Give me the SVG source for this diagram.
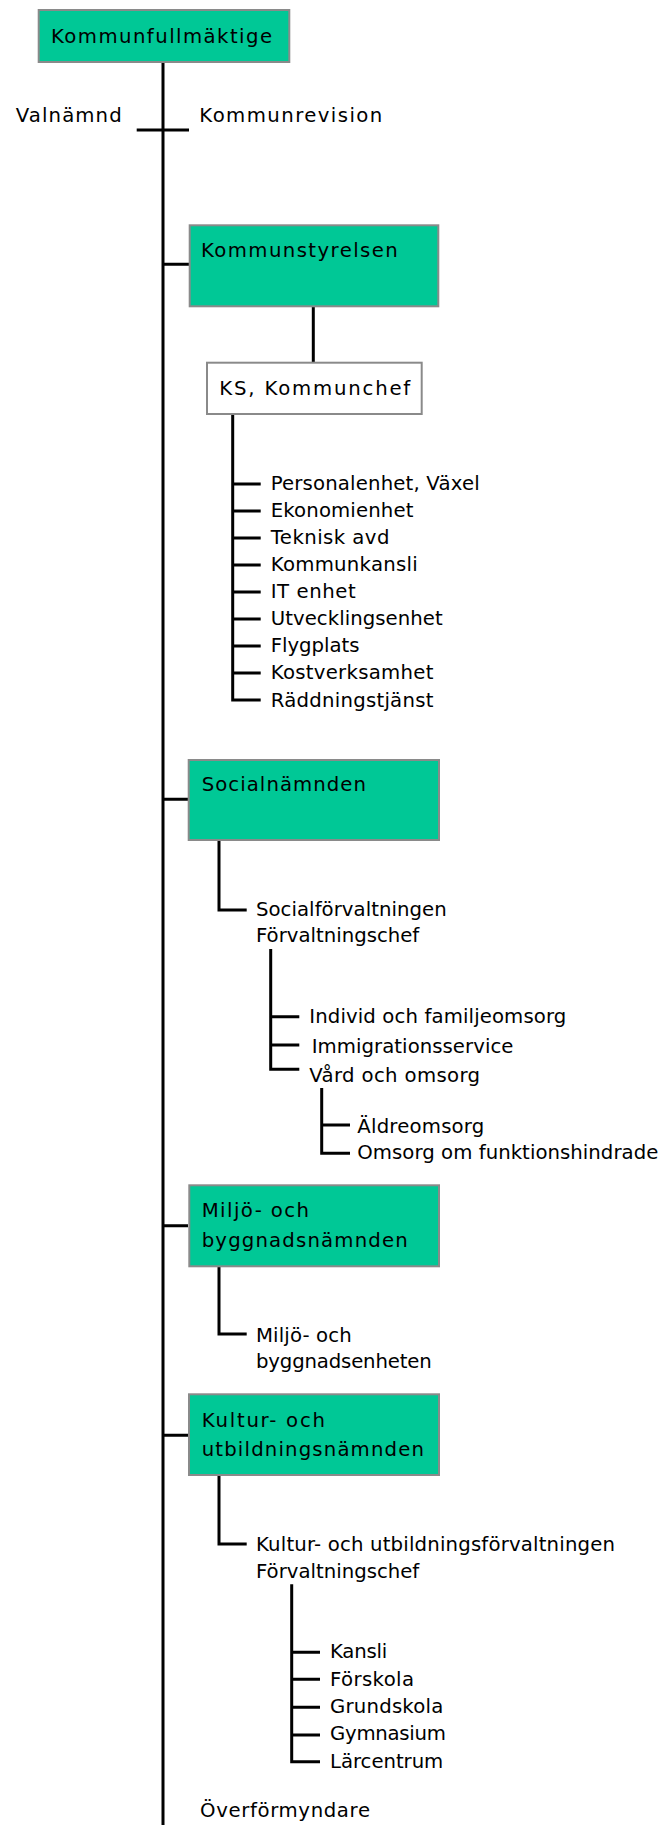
<svg xmlns="http://www.w3.org/2000/svg" width="664" height="1825" viewBox="0 0 664 1825">
<style>
text{font-family:"DejaVu Sans","Liberation Sans",sans-serif;font-size:19.7px;fill:#000}
.box{fill:#00C896;stroke:#8a8a8a;stroke-width:2}
.wbox{fill:#fff;stroke:#8a8a8a;stroke-width:2}
.ln{fill:none;stroke:#000;stroke-width:3;stroke-linejoin:miter}
</style>
<rect width="664" height="1825" fill="#fff"/>
<g id="connectors">
<path class="ln" d="M163,63V1825"/>
<path class="ln" d="M136.7,130H189"/>
<path class="ln" d="M163,264.3H189M163,799.3H188M163,1225.7H188M163,1435.3H188"/>
<path class="ln" d="M313.3,307V362"/>
<path class="ln" d="M232.7,415V700H260.7M232.7,484H260.7M232.7,511H260.7M232.7,538H260.7M232.7,565H260.7M232.7,592H260.7M232.7,619H260.7M232.7,646H260.7M232.7,673H260.7"/>
<path class="ln" d="M219,841V910H246.7"/>
<path class="ln" d="M270.7,949V1069.3H299.3M270.7,1016.7H299.3M270.7,1045H299.3"/>
<path class="ln" d="M321.7,1088V1153.3H350M321.7,1125H350"/>
<path class="ln" d="M219,1267V1334H246.7"/>
<path class="ln" d="M219,1476V1544H246.7"/>
<path class="ln" d="M291.7,1584.3V1761.7H320M291.7,1652.3H320M291.7,1679.3H320M291.7,1707.3H320M291.7,1735H320"/>
</g>
<g id="kommunfullmaktige"><rect class="box" x="38.7" y="10" width="250.6" height="52"/><text x="51" y="42.7" textLength="221" lengthAdjust="spacing">Kommunfullmäktige</text></g>
<g id="valnamnd"><text x="15.7" y="122.3" textLength="106" lengthAdjust="spacing">Valnämnd</text></g>
<g id="kommunrevision"><text x="199.3" y="122.3" textLength="183" lengthAdjust="spacing">Kommunrevision</text></g>
<g id="kommunstyrelsen"><rect class="box" x="189.7" y="225.3" width="248.6" height="81"/><text x="201" y="256.7" textLength="196.7" lengthAdjust="spacing">Kommunstyrelsen</text></g>
<g id="ks-kommunchef"><rect class="wbox" x="207" y="362.7" width="214.7" height="51.3"/><text x="219.3" y="395" textLength="191" lengthAdjust="spacing">KS, Kommunchef</text></g>
<g id="ks-units">
<text x="270.7" y="489.5" textLength="209" lengthAdjust="spacing">Personalenhet, Växel</text>
<text x="270.7" y="516.5" textLength="142.7" lengthAdjust="spacing">Ekonomienhet</text>
<text x="270.7" y="543.5" textLength="118.7" lengthAdjust="spacing">Teknisk avd</text>
<text x="270.7" y="570.5" textLength="147" lengthAdjust="spacing">Kommunkansli</text>
<text x="270.7" y="597.5" textLength="85" lengthAdjust="spacing">IT enhet</text>
<text x="270.7" y="624.5" textLength="172" lengthAdjust="spacing">Utvecklingsenhet</text>
<text x="270.7" y="651.5" textLength="88.7" lengthAdjust="spacing">Flygplats</text>
<text x="270.7" y="678.5" textLength="162.7" lengthAdjust="spacing">Kostverksamhet</text>
<text x="270.7" y="706.5" textLength="162.7" lengthAdjust="spacing">Räddningstjänst</text>
</g>
<g id="socialnamnden"><rect class="box" x="188.7" y="760" width="250.3" height="80"/><text x="201.7" y="790.7" textLength="164.3" lengthAdjust="spacing">Socialnämnden</text></g>
<g id="socialforvaltningen"><text x="256" y="916" textLength="190.7" lengthAdjust="spacing">Socialförvaltningen</text><text x="256" y="942" textLength="163.3" lengthAdjust="spacing">Förvaltningschef</text></g>
<g id="social-units">
<text x="309.3" y="1023.3" textLength="257" lengthAdjust="spacing">Individ och familjeomsorg</text>
<text x="311.7" y="1052.7" textLength="201.7" lengthAdjust="spacing">Immigrationsservice</text>
<text x="309.3" y="1081.7" textLength="170.7" lengthAdjust="spacing">Vård och omsorg</text>
</g>
<g id="vard-units">
<text x="357.3" y="1132.7" textLength="127" lengthAdjust="spacing">Äldreomsorg</text>
<text x="357.3" y="1159.3" textLength="301" lengthAdjust="spacing">Omsorg om funktionshindrade</text>
</g>
<g id="miljonamnden"><rect class="box" x="189.3" y="1185.3" width="249.7" height="81"/><text x="201.7" y="1217.3" textLength="107.3" lengthAdjust="spacing">Miljö- och</text><text x="201.7" y="1247.3" textLength="206" lengthAdjust="spacing">byggnadsnämnden</text></g>
<g id="miljoenheten"><text x="256" y="1341.7" textLength="95.7" lengthAdjust="spacing">Miljö- och</text><text x="256" y="1368.3" textLength="175.7" lengthAdjust="spacing">byggnadsenheten</text></g>
<g id="kulturnamnden"><rect class="box" x="189" y="1394.3" width="250" height="80.7"/><text x="201.7" y="1426.7" textLength="123.3" lengthAdjust="spacing">Kultur- och</text><text x="201.7" y="1456" textLength="222.3" lengthAdjust="spacing">utbildningsnämnden</text></g>
<g id="kulturforvaltningen"><text x="256" y="1550.7" textLength="359" lengthAdjust="spacing">Kultur- och utbildningsförvaltningen</text><text x="256" y="1578.3" textLength="163.3" lengthAdjust="spacing">Förvaltningschef</text></g>
<g id="kultur-units">
<text x="330" y="1658.3" textLength="57.3" lengthAdjust="spacing">Kansli</text>
<text x="330" y="1685.5" textLength="84" lengthAdjust="spacing">Förskola</text>
<text x="330" y="1713" textLength="113.3" lengthAdjust="spacing">Grundskola</text>
<text x="330" y="1740.3" textLength="116" lengthAdjust="spacing">Gymnasium</text>
<text x="330" y="1767.5" textLength="113.3" lengthAdjust="spacing">Lärcentrum</text>
</g>
<g id="overformyndare"><text x="200" y="1816.7" textLength="170" lengthAdjust="spacing">Överförmyndare</text></g>
</svg>
